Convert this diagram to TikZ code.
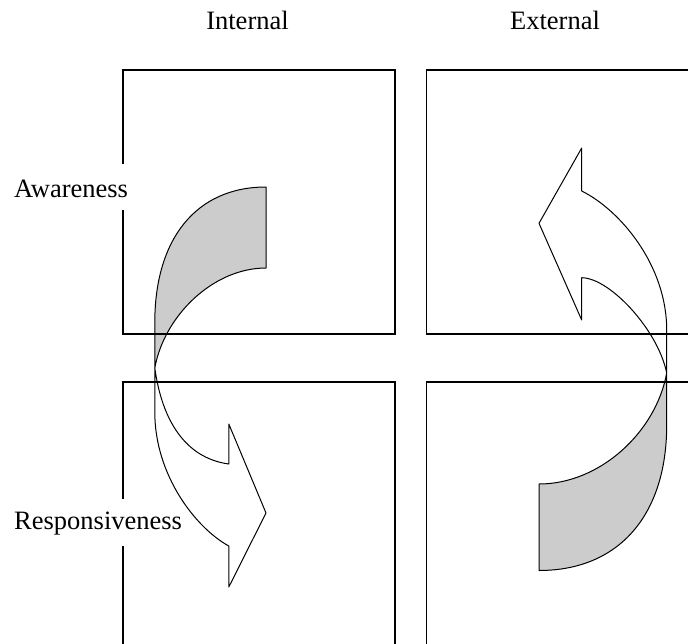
\documentclass[tikz,border=0pt]{standalone}
\usepackage{fontspec}
\setmainfont{Liberation Serif}
\definecolor{bandgray}{RGB}{204,204,204}
\begin{document}
\begin{tikzpicture}[x=1pt,y=-1pt,
  boxline/.style={line width=1.3pt,line cap=rect},
  arrowline/.style={line width=1pt,line join=round},
  band/.style={arrowline,fill=bandgray},
  lbl/.style={inner sep=0pt,font=\fontsize{26.5}{30}\selectfont}]
\useasboundingbox (0,0) rectangle (688,643);
% ---- labels
\node[lbl,anchor=base] (internal) at (247.5,29) {Internal};
\node[lbl,anchor=base] (external) at (555,29) {External};
\node[lbl,anchor=base west] (awareness) at (14,197.7) {Awareness};
\node[lbl,anchor=base west] (responsiveness) at (14,529.3) {Responsiveness};
% ---- left (internal) curved arrow
\draw[band] (266,187) .. controls (196.3,187) and (154.8,238.7) .. (154.8,322.4)
   -- (154.8,368) .. controls (164.1,316.1) and (212.9,268) .. (266,268) -- cycle;
\draw[arrowline] (154.8,368) -- (154.8,412.3)
   .. controls (154.8,474.8) and (195.4,527.7) .. (228.8,546)
   -- (228.8,587) -- (266,513) -- (228.8,424) -- (228.8,464)
   .. controls (185,458) and (162,420) .. (154.8,368) -- cycle;
% ---- right (external) curved arrow
\draw[band] (539,570.5) -- (539,484) .. controls (600,484) and (656,432) .. (666.7,373)
   -- (666.7,425) .. controls (666.7,515) and (619,570.5) .. (539,570.5) -- cycle;
\draw[arrowline] (666.7,373) -- (666.7,330)
   .. controls (666.7,265) and (620,210) .. (581.7,191)
   -- (581.7,148) -- (539,223.3) -- (581.7,320) -- (581.7,277.7)
   .. controls (610,278) and (658,330) .. (666.7,373) -- cycle;
% ---- boxes
\draw[boxline] (123,163) -- (123,70) -- (395,70) -- (395,334) -- (123,334) -- (123,211);
\draw[boxline] (688,70) -- (426.5,70) -- (426.5,334) -- (688,334);
\draw[boxline] (123,498) -- (123,382) -- (395,382) -- (395,643);
\draw[boxline] (123,547) -- (123,643);
\draw[boxline] (688,382) -- (426.5,382) -- (426.5,643);
\end{tikzpicture}
\end{document}
